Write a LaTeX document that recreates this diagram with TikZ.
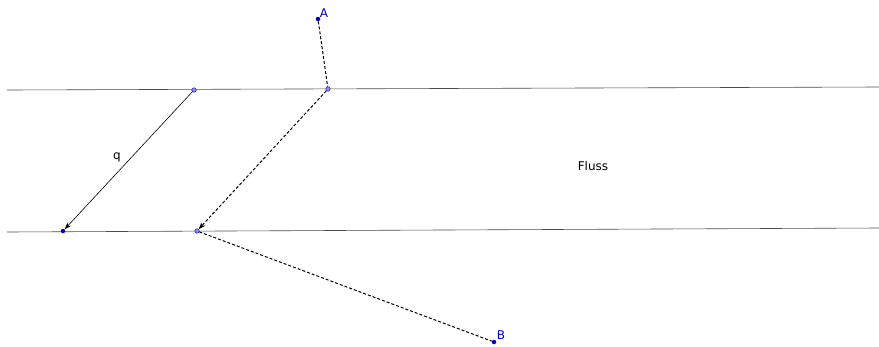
\documentclass[tikz,border=0pt]{standalone}
\usepackage{fontspec}
\setmainfont{DejaVu Sans}
\usetikzlibrary{arrows.meta}
\begin{document}
\begin{tikzpicture}[x=1pt,y=-1pt,
  bank/.style={draw=black!70,line width=0.6pt},
  seg/.style={draw=black,line width=0.6pt},
  dashseg/.style={draw=black,line width=1pt,dash pattern=on 3pt off 2pt},
  tip/.style={-{Stealth[length=7pt,width=5pt]}},
  freept/.style={circle,fill=blue!70!black,inner sep=0pt,minimum size=4.5pt},
  onpt/.style={circle,fill=blue!45,draw=blue!50!black,line width=0.4pt,inner sep=0pt,minimum size=4.5pt},
  lbl/.style={font=\fontsize{12}{14}\selectfont,inner sep=0pt},
  blbl/.style={lbl,text=blue!80!black}]
\useasboundingbox (0,0) rectangle (879,346);
\coordinate (L1a) at (7,90);
\coordinate (L1b) at (879,87);
\coordinate (L2a) at (7,232);
\coordinate (L2b) at (879,228);
\draw[bank] (L1a) -- (L1b);
\draw[bank] (L2a) -- (L2b);
\node[freept] (A) at (318,19) {};
\node[onpt] (P1) at (328,89) {};
\node[onpt] (Q1) at (194,90) {};
\node[freept] (Q2) at (63,231) {};
\node[onpt] (P2) at (197,231) {};
\node[freept] (B) at (494,342) {};
\draw[seg,tip] (Q1) -- (Q2);
\draw[dashseg] (A) -- (P1);
\draw[dashseg,tip] (P1) -- (P2);
\draw[dashseg] (P2) -- (B);
\node[blbl] (lA) at (324,13) {A};
\node[blbl] (lB) at (501,335) {B};
\node[lbl] (lq) at (117,157) {q};
\node[lbl] (lF) at (593,166) {Fluss};
\end{tikzpicture}
\end{document}
